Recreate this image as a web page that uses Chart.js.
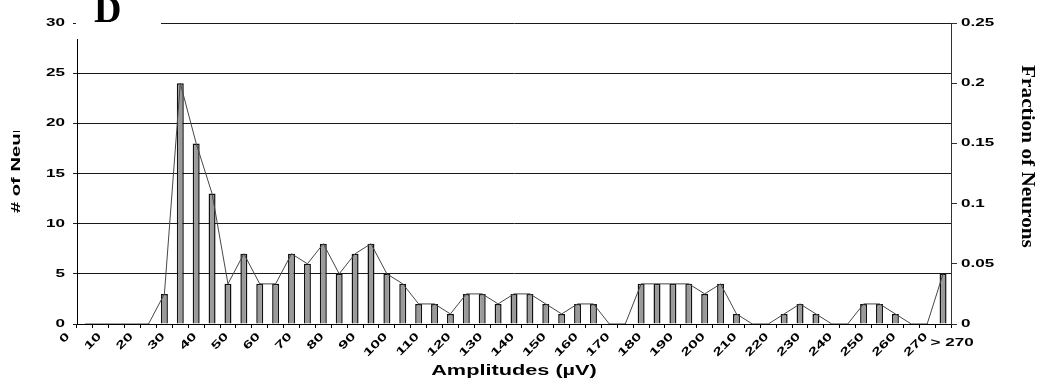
<!DOCTYPE html>
<html>
<head>
<meta charset="utf-8">
<script src="https://cdn.jsdelivr.net/npm/chart.js@4.4.1/dist/chart.umd.min.js"></script>
<style>
  html, body { margin: 0; padding: 0; background: #fff; }
  canvas { display: block; }
</style>
</head>
<body>
<canvas id="chart" width="1039" height="379"></canvas>
<script>
// Amplitude bins, 5 µV wide; the last bin gathers everything above 270 µV
const binLabels = [
  '0', '5', '10', '15', '20', '25', '30', '35', '40', '45',
  '50', '55', '60', '65', '70', '75', '80', '85', '90', '95',
  '100', '105', '110', '115', '120', '125', '130', '135', '140', '145',
  '150', '155', '160', '165', '170', '175', '180', '185', '190', '195',
  '200', '205', '210', '215', '220', '225', '230', '235', '240', '245',
  '250', '255', '260', '265', '> 270'
];

// Number of neurons per amplitude bin
const neuronCounts = [
  0, 0, 0, 0, 0, 3, 24, 18, 13, 4,
  7, 4, 4, 7, 6, 8, 5, 7, 8, 5,
  4, 2, 2, 1, 3, 3, 2, 3, 3, 2,
  1, 2, 2, 0, 0, 4, 4, 4, 4, 3,
  4, 1, 0, 0, 1, 2, 1, 0, 0, 2,
  2, 1, 0, 0, 5
];

// Labels written under every second bin
const xTickLabels = [
  '0', '10', '20', '30', '40', '50', '60', '70', '80', '90',
  '100', '110', '120', '130', '140', '150', '160', '170', '180', '190',
  '200', '210', '220', '230', '240', '250', '260', '270'
];

// Right-hand axis (fraction of neurons)
const fractionTickLabels = ['0', '0.05', '0.1', '0.15', '0.2', '0.25'];

const SANS = "'Liberation Sans', Arial, sans-serif";
const SERIF = "'Liberation Serif', 'Times New Roman', serif";

const canvas = document.getElementById('chart');
const ctx = canvas.getContext('2d');

// Wide lettering: every glyph run is stretched along its own baseline
const WIDTH_FACTORS = [['Liberation Sans', 1.55], ['Times New Roman', 1.15]];
function widthFactor(font) {
  for (const [family, k] of WIDTH_FACTORS) if (font.includes(family)) return k;
  return 1;
}
const rawFillText = ctx.fillText;
const rawMeasureText = ctx.measureText;
ctx.fillText = function (text, x, y, maxWidth) {
  const k = widthFactor(this.font);
  if (k === 1) return rawFillText.apply(this, arguments);
  this.save();
  this.translate(x, y);
  this.scale(k, 1);
  if (maxWidth === undefined) rawFillText.call(this, text, 0, 0);
  else rawFillText.call(this, text, 0, 0, maxWidth / k);
  this.restore();
};
ctx.measureText = function (text) {
  const m = rawMeasureText.call(this, text);
  const k = widthFactor(this.font);
  if (k === 1) return m;
  return {
    width: m.width * k,
    actualBoundingBoxLeft: m.actualBoundingBoxLeft * k,
    actualBoundingBoxRight: m.actualBoundingBoxRight * k,
    actualBoundingBoxAscent: m.actualBoundingBoxAscent,
    actualBoundingBoxDescent: m.actualBoundingBoxDescent,
    fontBoundingBoxAscent: m.fontBoundingBoxAscent,
    fontBoundingBoxDescent: m.fontBoundingBoxDescent
  };
};

// Axis titles, the level "> 270" label and the panel letter
const decorations = {
  id: 'decorations',
  afterDraw(chart) {
    const { ctx, chartArea, scales } = chart;
    const x = scales.x;
    ctx.save();
    ctx.fillStyle = '#000';

    ctx.font = 'bold 11px ' + SANS;
    ctx.textAlign = 'center';
    ctx.textBaseline = 'middle';
    ctx.fillText(binLabels[binLabels.length - 1], x.getPixelForValue(binLabels.length - 1) + 9, 343);

    ctx.font = 'bold 14px ' + SANS;
    ctx.textBaseline = 'alphabetic';
    ctx.fillText('Amplitudes (µV)', (chartArea.left + chartArea.right) / 2, 375);

    // left title runs past the top of its box and is cut there
    ctx.save();
    ctx.beginPath();
    ctx.rect(0, 131, 45, 248);
    ctx.clip();
    ctx.translate(20, 213);
    ctx.rotate(-Math.PI / 2);
    ctx.textAlign = 'left';
    ctx.font = 'bold 13px ' + SANS;
    ctx.fillText('# of Neurons', 0, 0);
    ctx.restore();

    ctx.save();
    ctx.translate(1022, 156.5);
    ctx.rotate(Math.PI / 2);
    ctx.textAlign = 'center';
    ctx.textBaseline = 'alphabetic';
    ctx.font = 'bold 18.5px ' + SERIF;
    ctx.fillText('Fraction of Neurons', 0, 0);
    ctx.restore();

    ctx.fillStyle = '#fff';
    ctx.fillRect(76, 0, 85, 39);
    ctx.fillStyle = '#000';
    ctx.font = "bold 38px 'Liberation Serif'";
    ctx.textAlign = 'left';
    ctx.textBaseline = 'alphabetic';
    ctx.fillText('D', 94, 22);
    ctx.restore();
  }
};

Chart.defaults.font.family = SANS;
Chart.defaults.font.weight = 'bold';
Chart.defaults.font.size = 11;
Chart.defaults.color = '#000';

new Chart(ctx, {
  type: 'bar',
  data: {
    labels: binLabels,
    datasets: [
      {
        type: 'line',
        data: neuronCounts,
        borderColor: '#474747',
        borderWidth: 1,
        pointRadius: 0,
        tension: 0,
        order: 0,
        yAxisID: 'y'
      },
      {
        type: 'bar',
        data: neuronCounts,
        backgroundColor: '#9a9a9a',
        borderColor: '#111',
        borderWidth: 1.5,
        barPercentage: 0.44,
        categoryPercentage: 1,
        order: 1,
        yAxisID: 'y'
      }
    ]
  },
  options: {
    responsive: false,
    animation: false,
    devicePixelRatio: 1,
    layout: { padding: { top: 23, left: 0, right: 0, bottom: 0 } },
    plugins: { legend: { display: false }, tooltip: { enabled: false } },
    scales: {
      x: {
        type: 'category',
        offset: true,
        grid: { offset: true, drawOnChartArea: false, drawTicks: true, tickLength: 4, color: '#000' },
        border: { display: true, color: '#000', width: 1 },
        ticks: {
          autoSkip: false,
          maxRotation: 45,
          minRotation: 45,
          padding: 2,
          labelOffset: -17,
          callback: (value, i) => (i % 2 === 0 ? xTickLabels[i / 2] : '')
        },
        afterFit(scale) { scale.height = 55; }
      },
      y: {
        position: 'left',
        min: 0,
        max: 30,
        ticks: { stepSize: 5, padding: 8 },
        grid: { color: '#1a1a1a', tickLength: 4 },
        border: { display: true, color: '#000', width: 1 },
        afterFit(scale) { scale.width = 77; }
      },
      y2: {
        position: 'right',
        min: 0,
        max: 0.25,
        ticks: { stepSize: 0.05, padding: 4, callback: (value, i) => fractionTickLabels[i] },
        grid: { drawOnChartArea: false, tickLength: 6, color: '#333' },
        border: { display: true, color: '#333', width: 1 },
        afterFit(scale) { scale.width = 88; }
      }
    }
  },
  plugins: [decorations]
});
</script>
</body>
</html>
